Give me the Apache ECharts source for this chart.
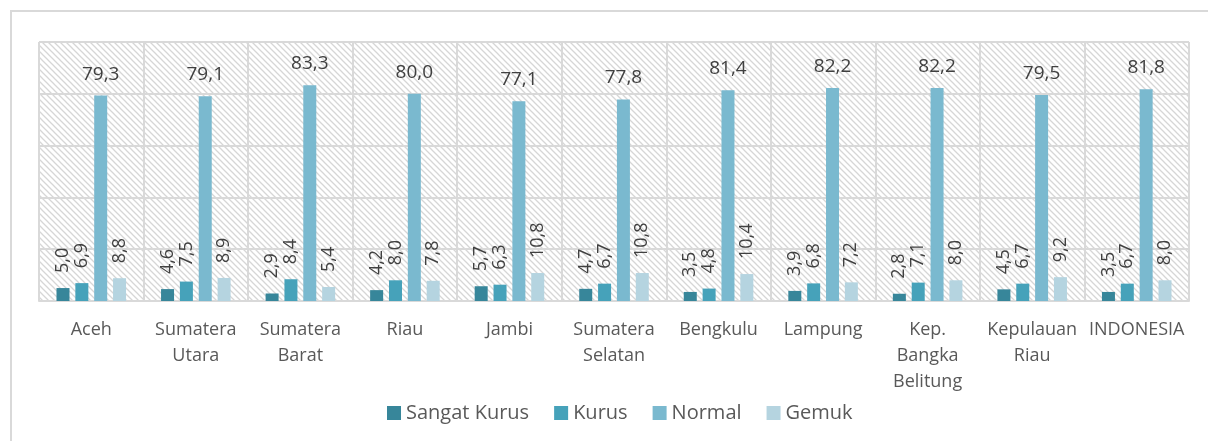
<!DOCTYPE html>
<html>
<head>
<meta charset="utf-8">
<script src="https://cdn.jsdelivr.net/npm/echarts@6/dist/echarts.min.js"></script>
<style>
html,body{margin:0;padding:0;background:#fff;}
#chart{width:1208px;height:441px;}
</style>
</head>
<body>
<div id="chart"></div>
<script>
const categories = ["Aceh", "Sumatera\nUtara", "Sumatera\nBarat", "Riau", "Jambi", "Sumatera\nSelatan", "Bengkulu", "Lampung", "Kep.\nBangka\nBelitung", "Kepulauan\nRiau", "INDONESIA"];
const seriesNames = ["Sangat Kurus", "Kurus", "Normal", "Gemuk"];
const sangatKurus = [5.0, 4.6, 2.9, 4.2, 5.7, 4.7, 3.5, 3.9, 2.8, 4.5, 3.5];
const kurus = [6.9, 7.5, 8.4, 8.0, 6.3, 6.7, 4.8, 6.8, 7.1, 6.7, 6.7];
const normal = [79.3, 79.1, 83.3, 80.0, 77.1, 77.8, 81.4, 82.2, 82.2, 79.5, 81.8];
const gemuk = [8.8, 8.9, 5.4, 7.8, 10.8, 10.8, 10.4, 7.2, 8.0, 9.2, 8.0];
const yTicks = [0, 20, 40, 60, 80, 100];

const colors = ["#37869a", "#46a2ba", "#7ab9cf", "#b5d4e0"];

// hatch pattern
const pc = document.createElement('canvas');
pc.width = 6; pc.height = 6;
const px = pc.getContext('2d');
px.fillStyle = '#ffffff';
px.fillRect(0, 0, 6, 6);
px.strokeStyle = '#d6d6d6';
px.lineWidth = 1.3;
px.beginPath();
px.moveTo(-1, -1); px.lineTo(7, 7);
px.moveTo(-1, 5); px.lineTo(1, 7);
px.moveTo(5, -1); px.lineTo(7, 1);
px.stroke();

const fmt = p => p.value.toFixed(1).replace('.', ',');

const rotLabel = {
  show: true, position: 'top', rotate: 90, align: 'left', verticalAlign: 'middle',
  distance: 15, fontFamily: 'Open Sans', fontSize: 18, color: '#404040', formatter: fmt
};
const flatLabel = {
  show: true, position: 'top', distance: 12,
  fontFamily: 'Open Sans', fontSize: 19, color: '#404040', formatter: fmt
};

const data = [sangatKurus, kurus, normal, gemuk];
const series = seriesNames.map((n, i) => ({
  name: n, type: 'bar', data: data[i], barWidth: 13, barGap: '45%',
  itemStyle: { color: colors[i] },
  label: i === 2 ? flatLabel : rotLabel
}));

const chart = echarts.init(document.getElementById('chart'), null, { renderer: 'canvas' });
chart.setOption({
  animation: false,
  backgroundColor: '#ffffff',
  graphic: [{
    type: 'rect', shape: { x: 11, y: 11, width: 1400, height: 600 },
    style: { fill: null, stroke: '#d9d9d9', lineWidth: 2 }, silent: true, z: -1
  }],
  grid: {
    left: 39, right: 19, top: 42, bottom: 140, show: true,
    backgroundColor: { image: pc, repeat: 'repeat' }, borderWidth: 0
  },
  legend: {
    data: seriesNames, left: 382, top: 398, itemWidth: 14, itemHeight: 14, itemGap: 25,
    icon: 'rect',
    textStyle: { fontFamily: 'Open Sans', fontSize: 20, color: '#595959' }
  },
  xAxis: {
    type: 'category', data: categories,
    axisLine: { lineStyle: { color: '#d9d9d9', width: 2 } },
    axisTick: { show: false },
    splitLine: { show: true, lineStyle: { color: '#d9d9d9', width: 2 } },
    axisLabel: { interval: 0, margin: 16, fontFamily: 'Open Sans', fontSize: 18, color: '#595959', lineHeight: 26 }
  },
  yAxis: {
    type: 'value', min: yTicks[0], max: yTicks[yTicks.length - 1], interval: yTicks[1] - yTicks[0],
    axisLabel: { show: false }, axisLine: { show: false }, axisTick: { show: false },
    splitLine: { lineStyle: { color: '#d9d9d9', width: 2 } }
  },
  series: series
});
</script>
</body>
</html>
